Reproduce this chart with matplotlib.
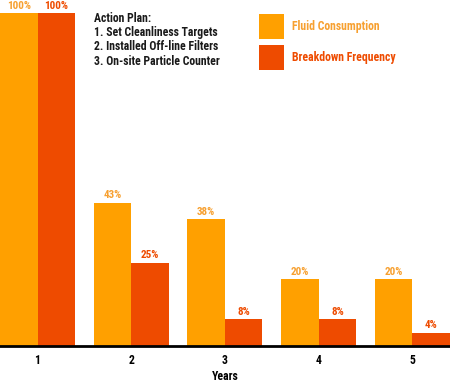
import matplotlib
matplotlib.use("Agg")
import matplotlib.pyplot as plt
from matplotlib.patches import Rectangle
import numpy as np

years = ["1", "2", "3", "4", "5"]
fluid = [100, 43, 38, 20, 20]
breakdown = [100, 25, 8, 8, 4]
series_names = ["Fluid Consumption", "Breakdown Frequency"]
plan_lines = ["Action Plan:", "1. Set Cleanliness Targets", "2. Installed Off-line Filters", "3. On-site Particle Counter"]

ORANGE = "#FFA000"
RED = "#EE4B00"
ORANGE_TXT = "#F7A030"
RED_TXT = "#EE4B00"
series_colors = [ORANGE, RED]
series_txt = [ORANGE_TXT, RED_TXT]

plt.rcParams['font.family'] = ['Roboto Condensed', 'DejaVu Sans']

W, H = 450, 382
fig = plt.figure(figsize=(W/100, H/100), dpi=100)
ax = fig.add_axes([0, 36/H, 1, 346/H])

x = np.arange(len(years))
w = 0.4
ax.bar(x - w/2, fluid, w, color=ORANGE, edgecolor="none")
ax.bar(x + w/2, breakdown, w, color=RED, edgecolor="none")

for xi, v in zip(x - w/2, fluid):
    ax.text(xi, v + 1.3, f"{v}%", ha="center", va="baseline", color=ORANGE_TXT,
            fontsize=8, fontweight="bold", clip_on=False)
for xi, v in zip(x + w/2, breakdown):
    ax.text(xi, v + 1.3, f"{v}%", ha="center", va="baseline", color=RED_TXT,
            fontsize=8, fontweight="bold", clip_on=False)

ax.set_xlim(-0.4, 4.4)
ax.set_ylim(0, 100 * 346 / 333)
for s in ["top", "right", "left"]:
    ax.spines[s].set_visible(False)
ax.spines["bottom"].set_linewidth(2)
ax.spines["bottom"].set_color("black")
ax.set_yticks([])
ax.set_xticks(x)
ax.set_xticklabels(years, fontsize=8.5, fontweight="bold")
ax.tick_params(axis="x", length=0, pad=6)

fig.text(225/W, 1 - 376/H, "Years", fontsize=8.5, fontweight="bold",
         ha="center", va="center")

for i, line in enumerate(plan_lines):
    fig.text(94/W, 1 - (18 + i*14.5)/H, line, fontsize=8.5, fontweight="bold",
             color="#1a1a1a", ha="left", va="center")

# legend drawn manually
for i, (name, c, tc) in enumerate(zip(series_names, series_colors, series_txt)):
    top = 14 + i*31
    fig.add_artist(Rectangle((259/W, 1 - (top + 25)/H), 25/W, 25/H,
                             transform=fig.transFigure, facecolor=c, edgecolor="none"))
    fig.text(292/W, 1 - (top + 12.5)/H, name, fontsize=8.5, fontweight="bold",
             color=tc, ha="left", va="center")

fig.savefig("out.png", dpi=100)
